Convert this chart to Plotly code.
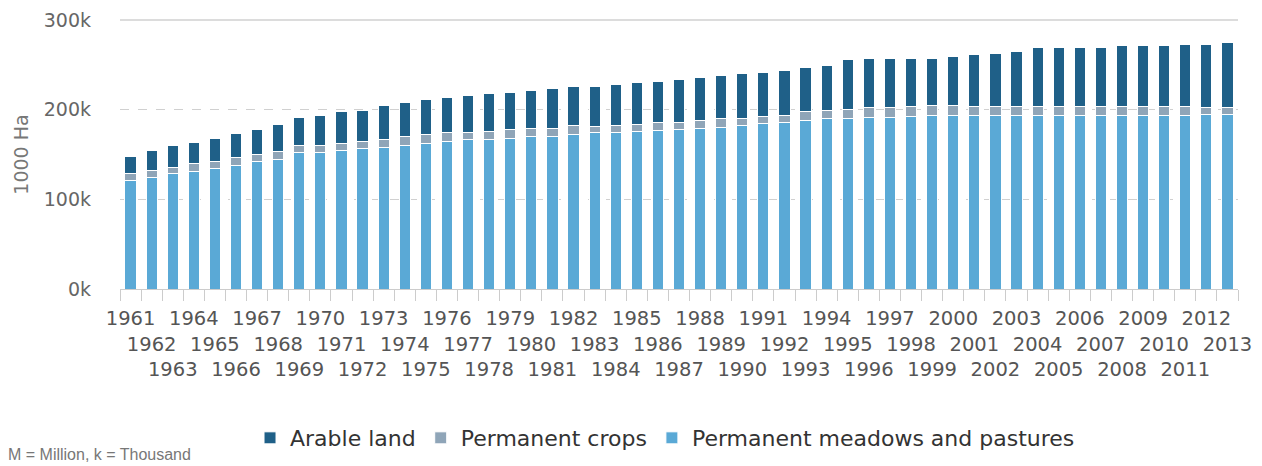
import plotly.graph_objects as go

years = [str(y) for y in range(1961, 2014)]

# values in thousand ha (axis shows k)
meadows = [120.7, 124.4, 128.5, 131.1, 134.5, 138.2, 142.7, 144.5, 152.7, 152.7,
           154.5, 156.8, 158.3, 159.8, 162.0, 164.2, 166.5, 166.5, 168.0, 170.2,
           170.2, 172.4, 174.0, 174.0, 176.2, 176.9, 177.7, 179.5, 180.6, 182.1,
           184.4, 185.8, 188.1, 189.6, 189.6, 191.8, 191.8, 192.5, 193.3, 194.0,
           194.0, 194.0, 194.0, 194.0, 194.0, 194.0, 194.0, 194.0, 194.0, 194.0,
           194.0, 194.5, 194.5]
crops = [7.8, 7.8, 7.5, 9.3, 7.4, 8.2, 7.8, 8.6, 7.4, 7.4,
         7.8, 7.4, 8.2, 10.4, 10.1, 9.8, 7.5, 9.7, 10.0, 9.3,
         9.3, 9.7, 7.4, 8.1, 7.8, 8.9, 8.1, 8.6, 9.3, 8.2,
         8.1, 8.2, 10.0, 9.3, 10.4, 10.4, 10.4, 11.2, 11.2, 10.5,
         9.7, 9.7, 9.7, 9.7, 9.7, 9.7, 9.7, 9.7, 9.7, 9.7,
         9.7, 7.4, 7.4]
arable = [19.3, 22.0, 24.1, 23.5, 26.0, 27.5, 27.5, 30.9, 31.7, 33.9,
          35.5, 35.4, 37.6, 37.3, 39.1, 39.8, 41.6, 41.7, 41.3, 42.1,
          44.0, 43.2, 43.9, 45.5, 45.8, 45.5, 47.7, 47.3, 47.7, 49.6,
          48.8, 49.6, 48.8, 50.6, 55.5, 54.8, 54.8, 53.3, 52.5, 54.7,
          57.4, 59.2, 61.5, 65.2, 65.2, 65.2, 65.2, 67.5, 67.5, 67.5,
          68.9, 70.7, 73.0]

y_tickvals = [0, 100, 200, 300]
y_ticktext = ["0k", "100k", "200k", "300k"]

# staggered 3-row year labels
x_ticktext = ["<br>" * (i % 3) + y for i, y in enumerate(years)]

FONT = "DejaVu Sans"
border = dict(color="white", width=1)

fig = go.Figure()
fig.add_trace(go.Bar(x=years, y=meadows, name="Permanent meadows and pastures",
                     marker=dict(color="#5aa9d6", line=border)))
fig.add_trace(go.Bar(x=years, y=crops, name="Permanent crops",
                     marker=dict(color="#8fa5b8", line=border)))
fig.add_trace(go.Bar(x=years, y=arable, name="Arable land",
                     marker=dict(color="#1f6088", line=border)))

fig.update_layout(
    width=1262, height=466,
    margin=dict(l=112, r=32, t=12, b=185),
    barmode="stack", bargap=0.47,
    plot_bgcolor="white", paper_bgcolor="white",
    font=dict(family=FONT, size=19, color="#666666"),
    showlegend=True,
    legend=dict(orientation="h", traceorder="reversed",
                x=0.4875, xanchor="center", y=-0.554, yanchor="middle",
                font=dict(family=FONT, size=22, color="#333333"),
                itemclick=False, itemdoubleclick=False),
    xaxis=dict(
        type="category", tickmode="array", tickvals=years, ticktext=x_ticktext,
        tickangle=0, tickson="boundaries", ticks="outside", ticklen=11,
        tickcolor="#cccccc", showline=True, linecolor="#cccccc", linewidth=1,
        showgrid=False, ticklabelstandoff=12,
        tickfont=dict(family=FONT, size=19.5, color="#555555"),
        automargin=False,
    ),
    yaxis=dict(
        range=[0, 300], tickmode="array", tickvals=y_tickvals, ticktext=y_ticktext,
        showgrid=True, gridcolor="#d0d0d0", griddash="dash", gridwidth=1,
        zeroline=False, ticks="", ticklabelstandoff=28,
        tickfont=dict(family=FONT, size=19, color="#666666"),
        title=dict(text="1000 Ha", standoff=10,
                   font=dict(family=FONT, size=19, color="#777777")),
        automargin=False,
    ),
    shapes=[dict(type="line", xref="paper", yref="y domain", x0=0, x1=1, y0=1, y1=1,
                 line=dict(color="#d0d0d0", width=1.5))],
    annotations=[dict(text="M = Million, k = Thousand", showarrow=False,
                      xref="paper", yref="paper", x=-0.102, y=-0.617,
                      xanchor="left", yanchor="middle",
                      font=dict(family="Liberation Sans", size=16,
                                color="#777777"))],
)

fig.write_html("out.html")
